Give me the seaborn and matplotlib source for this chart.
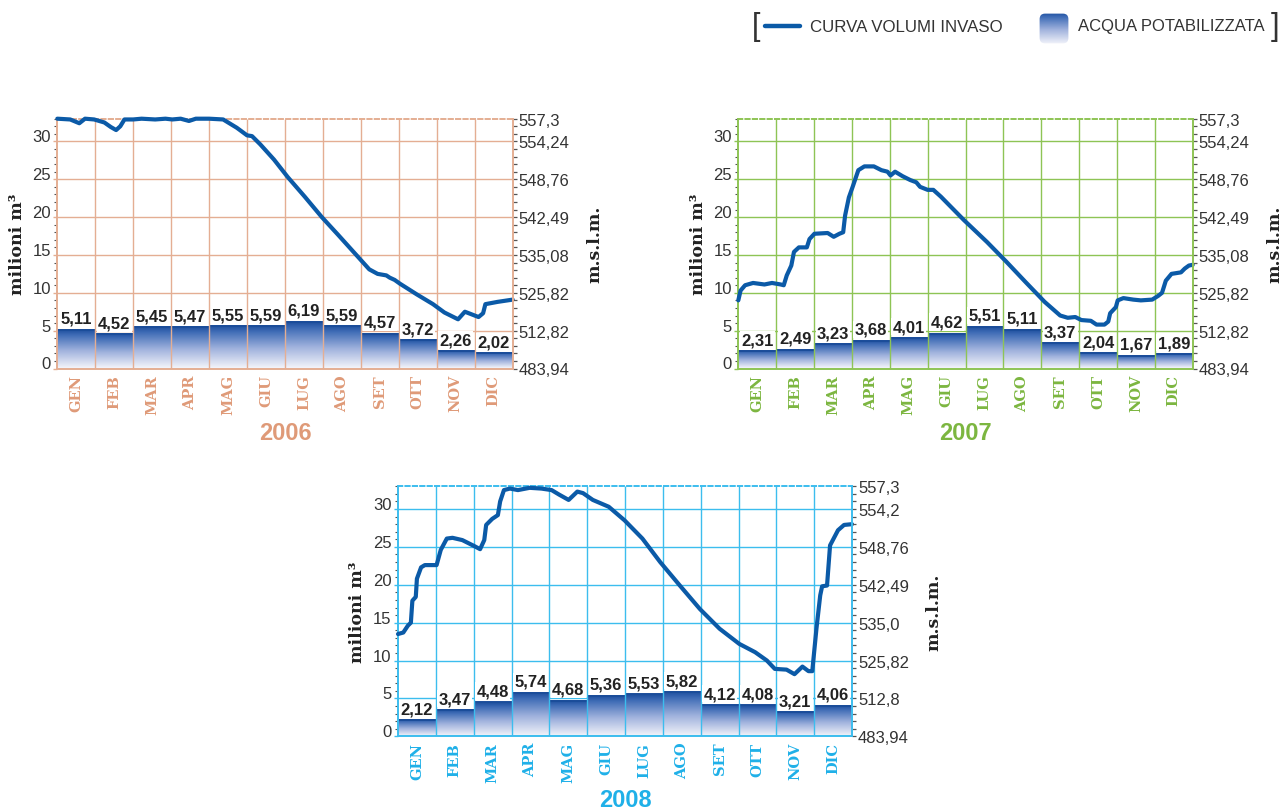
import numpy as np
import pandas as pd
import matplotlib
matplotlib.use("Agg")
import matplotlib.pyplot as plt
import seaborn as sns
from matplotlib.lines import Line2D
from matplotlib.patches import FancyBboxPatch
from matplotlib.colors import LinearSegmentedColormap
from matplotlib.ticker import MultipleLocator

sns.set_theme(style="white")
plt.rcParams["font.family"] = ["Liberation Sans", "DejaVu Sans"]

# ---------------- data ----------------
MONTHS = ["GEN", "FEB", "MAR", "APR", "MAG", "GIU", "LUG", "AGO", "SET", "OTT", "NOV", "DIC"]
LEFT_TICKS = [0, 5, 10, 15, 20, 25, 30]
RIGHT_TICKS = [0, 5, 10, 15, 20, 25, 30, 33]
RIGHT_LABELS_0607 = ["483,94", "512,82", "525,82", "535,08", "542,49", "548,76", "554,24", "557,3"]
RIGHT_LABELS_08 = ["483,94", "512,8", "525,82", "535,0", "542,49", "548,76", "554,2", "557,3"]

BARS_2006 = [5.11, 4.52, 5.45, 5.47, 5.55, 5.59, 6.19, 5.59, 4.57, 3.72, 2.26, 2.02]
BARS_2007 = [2.31, 2.49, 3.23, 3.68, 4.01, 4.62, 5.51, 5.11, 3.37, 2.04, 1.67, 1.89]
BARS_2008 = [2.12, 3.47, 4.48, 5.74, 4.68, 5.36, 5.53, 5.82, 4.12, 4.08, 3.21, 4.06]

CURVE_2006_X = [0.00, 0.34, 0.58, 0.73, 0.97, 1.24, 1.41, 1.55, 1.66, 1.77, 2.00, 2.22, 2.58,
                2.85, 3.03, 3.25, 3.47, 3.65, 4.00, 4.37, 4.73, 5.00, 5.13, 5.35, 5.71, 6.07,
                6.52, 6.97, 7.41, 7.86, 8.22, 8.44, 8.67, 8.76, 8.89, 9.03, 9.47, 9.90, 10.20,
                10.56, 10.74, 11.10, 11.22, 11.28, 11.60, 12.00]
CURVE_2006_Y = [33.0, 32.9, 32.4, 33.0, 32.9, 32.5, 31.9, 31.5, 32.0, 32.9, 32.9, 33.0, 32.9,
                33.0, 32.9, 33.0, 32.7, 33.0, 33.0, 32.9, 31.8, 30.8, 30.7, 29.6, 27.6, 25.3,
                22.7, 20.0, 17.6, 15.1, 13.1, 12.5, 12.3, 12.0, 11.7, 11.2, 9.8, 8.5, 7.4,
                6.5, 7.5, 6.8, 7.3, 8.5, 8.8, 9.1]

CURVE_2007_X = [0.00, 0.06, 0.18, 0.39, 0.69, 0.89, 1.12, 1.20, 1.28, 1.40, 1.47, 1.60, 1.81,
                1.88, 2.01, 2.36, 2.52, 2.67, 2.77, 2.82, 2.92, 3.02, 3.17, 3.33, 3.58, 3.78,
                3.94, 4.02, 4.14, 4.34, 4.54, 4.70, 4.80, 5.00, 5.15, 5.35, 5.96, 6.57, 7.08,
                7.59, 8.09, 8.50, 8.70, 8.90, 9.06, 9.31, 9.46, 9.67, 9.77, 9.82, 9.97, 10.02,
                10.17, 10.43, 10.63, 10.93, 11.09, 11.19, 11.29, 11.44, 11.69, 11.79, 11.90, 12.00]
CURVE_2007_Y = [9.0, 10.3, 11.0, 11.3, 11.1, 11.3, 11.1, 11.0, 12.3, 13.6, 15.4, 16.0, 16.0,
                17.1, 17.8, 17.9, 17.4, 17.8, 18.0, 20.2, 22.6, 24.0, 26.2, 26.7, 26.7, 26.2,
                26.0, 25.5, 26.0, 25.4, 24.9, 24.6, 24.0, 23.6, 23.6, 22.7, 19.6, 16.7, 14.1,
                11.4, 8.8, 7.0, 6.7, 6.8, 6.4, 6.3, 5.8, 5.8, 6.2, 7.3, 8.1, 9.0,
                9.3, 9.1, 9.0, 9.1, 9.6, 10.0, 11.6, 12.5, 12.7, 13.2, 13.6, 13.7]

CURVE_2008_X = [0.00, 0.14, 0.26, 0.34, 0.38, 0.47, 0.50, 0.61, 0.71, 1.02, 1.13, 1.29, 1.44,
                1.70, 2.02, 2.17, 2.28, 2.33, 2.49, 2.64, 2.70, 2.80, 2.96, 3.17, 3.48, 3.79,
                4.06, 4.26, 4.51, 4.74, 4.89, 5.15, 5.57, 5.99, 6.46, 6.93, 7.45, 7.98, 8.50,
                9.02, 9.44, 9.75, 9.96, 10.27, 10.48, 10.69, 10.85, 10.95, 11.06, 11.16, 11.21,
                11.34, 11.42, 11.63, 11.79, 12.00]
CURVE_2008_Y = [13.5, 13.7, 14.6, 15.0, 17.9, 18.4, 20.8, 22.3, 22.6, 22.6, 24.6, 26.1, 26.2,
                25.9, 25.1, 24.7, 25.9, 27.9, 28.7, 29.2, 31.0, 32.5, 32.7, 32.5, 32.8, 32.7,
                32.5, 31.9, 31.2, 32.3, 32.1, 31.2, 30.3, 28.5, 26.1, 23.0, 19.9, 16.8, 14.2,
                12.2, 11.1, 10.0, 8.9, 8.8, 8.2, 9.2, 8.6, 8.6, 14.2, 18.6, 19.8,
                19.9, 25.2, 27.2, 27.9, 28.0]

# ---------------- style ----------------
W, H = 1282, 812
fig = plt.figure(figsize=(W / 100, H / 100), dpi=100)
fig.patch.set_facecolor("white")

LINE_COLOR = "#0b5aa7"
TEXT_DARK = "#333333"
bar_cmap = LinearSegmentedColormap.from_list(
    "bar", [(0.0, "#f3f4fa"), (0.45, "#a0b2dd"), (0.85, "#3f6cb6"), (1.0, "#1a4c9c")])
GRAD = np.linspace(0, 1, 256).reshape(-1, 1)


def px_axes(l, t, r, b):
    return fig.add_axes([l / W, 1 - b / H, (r - l) / W, (b - t) / H])


def panel(box, year, bars, cx, cy, main_c, grid_c, rlabels):
    ax = px_axes(*box)
    ax.set_facecolor("none")
    df_b = pd.DataFrame({"pos": np.arange(12) + 0.5, "val": bars})
    sns.barplot(data=df_b, x="pos", y="val", native_scale=True, width=1.0,
                color="white", errorbar=None, ax=ax, zorder=2)
    for p, v in zip(ax.patches, bars):
        x0, w, h = p.get_x(), p.get_width(), p.get_height()
        p.set_facecolor("none")
        p.set_edgecolor("none")
        ax.imshow(GRAD, cmap=bar_cmap, extent=[x0, x0 + w, 0, h], aspect="auto",
                  origin="lower", zorder=2, interpolation="bilinear")
        ax.hlines(h, x0, x0 + w, color="#1b4d9a", lw=1.4, zorder=2.2)
        ax.annotate(f"{v:.2f}".replace(".", ","), (x0 + w / 2, h), xytext=(0, 5),
                    textcoords="offset points", ha="center", va="baseline",
                    fontsize=12, fontweight="bold", color="#222222",
                    family="Liberation Sans",
                    bbox=dict(facecolor="white", edgecolor="none", pad=0.8), zorder=4)

    df_c = pd.DataFrame({"t": CURVES[year][0], "v": CURVES[year][1]})
    sns.lineplot(data=df_c, x="t", y="v", color=LINE_COLOR, lw=3.0, ax=ax,
                 sort=False, estimator=None, zorder=5)
    ln = ax.lines[-1]
    ln.set_clip_on(False)
    ln.set_solid_capstyle("round")
    ln.set_solid_joinstyle("round")

    ax.set_xlim(0, 12)
    ax.set_ylim(0, 33)
    ax.set_axisbelow(True)
    ax.yaxis.grid(True, color=grid_c, lw=1.0)
    ax.xaxis.grid(False)
    ax.vlines(np.arange(1, 12), 0, 33, color=grid_c, lw=1.0, zorder=3)

    for s in ["left", "bottom"]:
        ax.spines[s].set_color(grid_c)
        ax.spines[s].set_linewidth(1.4)
    ax.spines["right"].set_visible(False)
    ax.spines["top"].set_color(grid_c)
    ax.spines["top"].set_linewidth(1.4)
    ax.spines["top"].set_linestyle((0, (2.2, 1.6)))

    ax.set_xticks(np.arange(12) + 0.5)
    ax.set_xticklabels(MONTHS, rotation=90, va="top", ha="center")
    ax.tick_params(axis="x", length=0, pad=4, labelcolor=main_c)
    for lab in ax.get_xticklabels():
        lab.set_fontfamily("DejaVu Serif")
        lab.set_fontweight("bold")
        lab.set_fontsize(10.5)

    ax.set_yticks(LEFT_TICKS)
    ax.yaxis.set_minor_locator(MultipleLocator(1))
    ax.tick_params(axis="y", which="major", left=True, direction="out", length=3.2,
                   width=1.0, color=grid_c, labelsize=12, labelcolor=TEXT_DARK, pad=1.5)
    ax.tick_params(axis="y", which="minor", left=True, direction="out", length=2.5,
                   width=0.8, color="#555555")
    for t in ax.yaxis.get_major_ticks():
        t.label1.set_va("baseline")
    ax.set_xlabel("")
    ax.set_ylabel("")

    ax.text(-40 / (box[2] - box[0]), 0.5, "milioni m³", transform=ax.transAxes,
            rotation=90, ha="center", va="center", family="DejaVu Serif",
            fontweight="bold", fontsize=12.5, color="#222222")
    ax.text(1 + 82 / (box[2] - box[0]), 0.5, "m.s.l.m.", transform=ax.transAxes,
            rotation=90, ha="center", va="center", family="DejaVu Serif",
            fontweight="bold", fontsize=12.5, color="#222222")

    ax2 = ax.twinx()
    ax2.set_ylim(0, 33)
    ax2.set_yticks(RIGHT_TICKS)
    ax2.set_yticklabels(rlabels)
    ax2.yaxis.set_minor_locator(MultipleLocator(1))
    ax2.tick_params(axis="y", which="both", right=True, direction="out", length=2.8,
                    width=0.9, color="#555555", labelsize=12, labelcolor=TEXT_DARK, pad=1.5)
    for s in ["left", "top", "bottom"]:
        ax2.spines[s].set_visible(False)
    ax2.spines["right"].set_color(grid_c)
    ax2.spines["right"].set_linewidth(1.4)
    ax2.grid(False)

    fig.text(cx / W, 1 - cy / H, year, ha="center", va="center", fontsize=17,
             fontweight="bold", color=main_c, family="Liberation Sans")
    return ax


CURVES = {"2006": (CURVE_2006_X, CURVE_2006_Y),
          "2007": (CURVE_2007_X, CURVE_2007_Y),
          "2008": (CURVE_2008_X, CURVE_2008_Y)}

panel((57.3, 119.7, 512.7, 369.5), "2006", BARS_2006, 285, 434,
      "#df9a78", "#e4ae93", RIGHT_LABELS_0607)
panel((738.3, 119.7, 1192.7, 369.5), "2007", BARS_2007, 965, 434,
      "#7cb640", "#8ec455", RIGHT_LABELS_0607)
panel((398.0, 487.3, 852.0, 737.3), "2008", BARS_2008, 625, 801,
      "#1fb0e8", "#3cbdee", RIGHT_LABELS_08)

# ---------------- legend ----------------
LY = 1 - 27 / H
fig.text(752 / W, LY, "[", ha="left", va="center", fontsize=22, color=TEXT_DARK,
         family="Liberation Sans")
fig.add_artist(Line2D([765 / W, 800 / W], [LY, LY], color=LINE_COLOR, lw=3.2,
                      transform=fig.transFigure))
fig.text(810 / W, LY, "CURVA VOLUMI INVASO", ha="left", va="center", fontsize=12.2,
         color=TEXT_DARK, family="Liberation Sans")
lax = fig.add_axes([1039 / W, 1 - 45 / H, 30 / W, 31 / H])
lax.set_axis_off()
im = lax.imshow(GRAD, cmap=bar_cmap, extent=[0, 1, 0, 1], aspect="auto", origin="lower")
clip = FancyBboxPatch((0.02, 0.02), 0.96, 0.96, boxstyle="round,pad=0,rounding_size=0.18",
                      transform=lax.transAxes, facecolor="none", edgecolor="none")
lax.add_patch(clip)
im.set_clip_path(clip)
lax.set_xlim(0, 1)
lax.set_ylim(0, 1)
fig.text(1078 / W, LY, "ACQUA POTABILIZZATA", ha="left", va="center", fontsize=12.0,
         color=TEXT_DARK, family="Liberation Sans")
fig.text(1271 / W, LY, "]", ha="left", va="center", fontsize=22, color=TEXT_DARK,
         family="Liberation Sans")

fig.savefig("out.png", dpi=100, facecolor="white")
